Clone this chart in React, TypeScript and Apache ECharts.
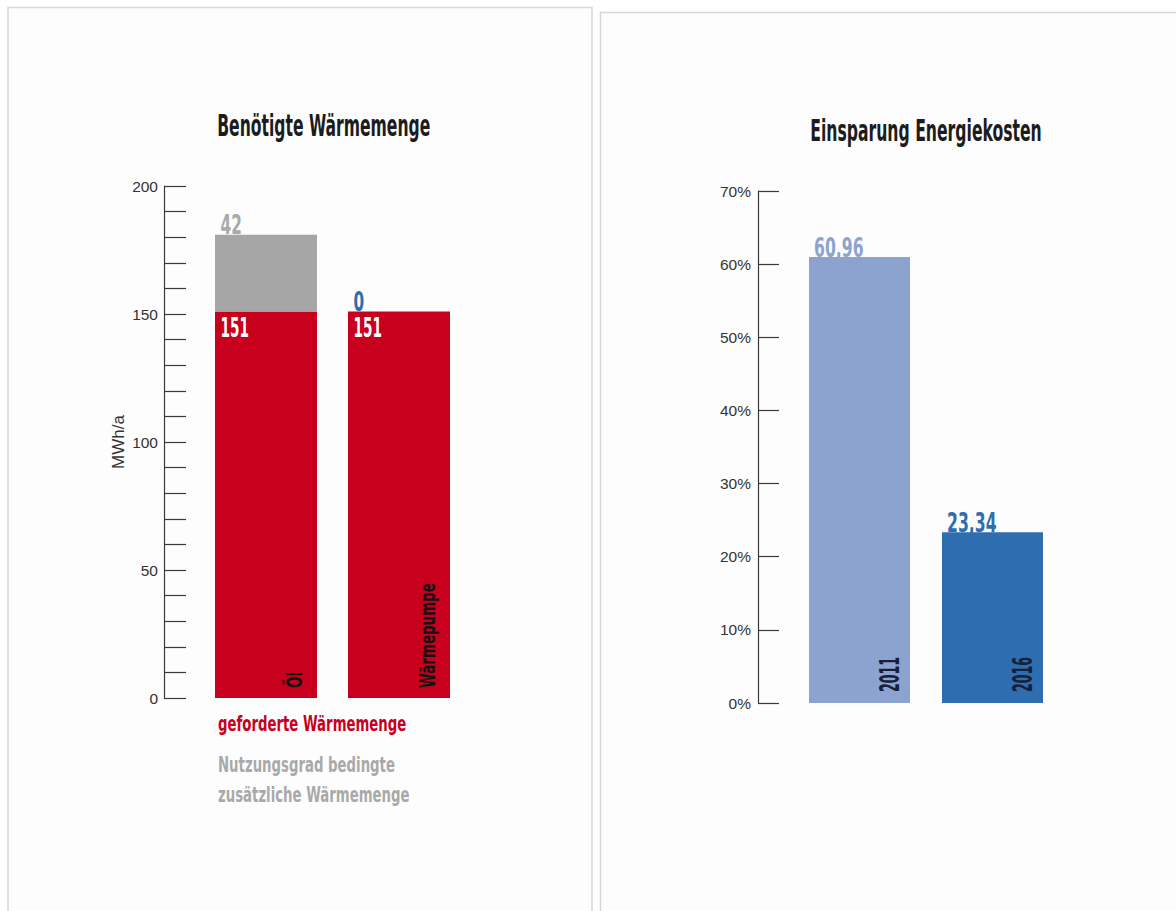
import React, { useEffect, useRef } from 'react';
import * as echarts from 'echarts';

// ---- data ----
const heatCategories = ['Öl', 'Wärmepumpe'];
const requiredHeat = [151, 151];
const extraHeat = [30, 0]; // drawn height of the grey segment
const extraHeatLabels = ['42', '0'];
const heatLegend = ['geforderte Wärmemenge', 'Nutzungsgrad bedingte', 'zusätzliche Wärmemenge'];
const heatTitle = 'Benötigte Wärmemenge';
const heatAxisName = 'MWh/a';

const savingsYears = ['2011', '2016'];
const savingsValues = [60.96, 23.34];
const savingsTitle = 'Einsparung Energiekosten';

// ---- styles ----
const COND = "'DejaVu Sans Condensed', 'DejaVu Sans', sans-serif";
const HEL = "'Liberation Sans', Arial, Helvetica, sans-serif";
const RED = '#c9001d';
const GREY = '#a6a6a6';
const GREY_TEXT = '#a9a9a9';
const BLUE_LIGHT = '#8ca3cf';
const BLUE_DARK = '#2e6db0';
const AXIS = '#3a3a3a';
const BAR_W0 = 102;
const BAR_W1 = 101;

function condText(
  text: string, x: number, y: number, size: number, scaleX: number, fill: string,
  align: string = 'left', rotation: number = 0, weight: string = 'bold',
) {
  return {
    type: 'text', x, y, scaleX, rotation, z: 100, silent: true,
    style: {
      text, fill,
      font: `${weight} ${size}px ${COND}`,
      textAlign: align, align,
      textVerticalAlign: 'middle', verticalAlign: 'middle',
    },
  };
}

export default function App() {
  const ref = useRef<HTMLDivElement>(null);
  useEffect(() => {
    if (!ref.current) return;
    const chart = echarts.init(ref.current, null, { renderer: 'svg' });
    const tickStyle = { color: AXIS, width: 1.2 };
    chart.setOption({
      animation: false,
      textStyle: { fontFamily: HEL },
      grid: [
        { left: 199.5, top: 186, width: 266, height: 512 },
        { left: 793, top: 191, width: 266, height: 512 },
      ],
      xAxis: [
        {
          type: 'category', gridIndex: 0, data: heatCategories,
          axisLine: { show: false }, axisTick: { show: false }, axisLabel: { show: false },
        },
        {
          type: 'category', gridIndex: 1, data: savingsYears,
          axisLine: { show: false }, axisTick: { show: false }, axisLabel: { show: false },
        },
      ],
      yAxis: [
        {
          type: 'value', gridIndex: 0, min: 0, max: 200, interval: 50, offset: 35.5,
          axisLine: { show: true, lineStyle: tickStyle },
          axisTick: { show: true, inside: true, length: 22, lineStyle: tickStyle },
          minorTick: { show: true, splitNumber: 5, length: 22, lineStyle: tickStyle },
          splitLine: { show: false },
          axisLabel: { margin: 6, color: '#333', fontSize: 15.5, fontFamily: HEL },
          name: heatAxisName, nameLocation: 'middle', nameGap: 37,
          nameTextStyle: { fontSize: 17, color: '#333', fontFamily: HEL },
        },
        {
          type: 'value', gridIndex: 1, min: 0, max: 70, interval: 10, offset: 35,
          axisLine: { show: true, lineStyle: tickStyle },
          axisTick: { show: true, inside: true, length: 21, lineStyle: tickStyle },
          splitLine: { show: false },
          axisLabel: { margin: 7, color: '#333', fontSize: 15.5, fontFamily: HEL, formatter: '{value}%' },
        },
      ],
      series: [
        {
          name: heatLegend[0], type: 'bar', xAxisIndex: 0, yAxisIndex: 0, stack: 'heat',
          barWidth: BAR_W0, data: requiredHeat, itemStyle: { color: RED },
        },
        {
          name: heatLegend[1] + ' ' + heatLegend[2], type: 'bar', xAxisIndex: 0, yAxisIndex: 0, stack: 'heat',
          barWidth: BAR_W0, data: extraHeat, itemStyle: { color: GREY },
        },
        {
          name: savingsTitle, type: 'bar', xAxisIndex: 1, yAxisIndex: 1, barWidth: BAR_W1,
          data: savingsValues.map((v, i) => ({
            value: v, itemStyle: { color: i === 0 ? BLUE_LIGHT : BLUE_DARK },
          })),
        },
      ],
    });

    const p0 = (i: number, v: number) =>
      chart.convertToPixel({ xAxisIndex: 0, yAxisIndex: 0 }, [i, v]) as number[];
    const p1 = (i: number, v: number) =>
      chart.convertToPixel({ xAxisIndex: 1, yAxisIndex: 1 }, [i, v]) as number[];

    const texts: any[] = [];
    // titles
    texts.push(condText(heatTitle, 323.7, 126, 30, 0.578, '#1c1c1c', 'center'));
    texts.push(condText(savingsTitle, 926, 131, 30, 0.58, '#1c1c1c', 'center'));
    // legend of left chart
    texts.push(condText(heatLegend[0], 218, 723, 21.4, 0.69, RED));
    texts.push(condText(heatLegend[1], 218, 764.5, 21.4, 0.69, GREY_TEXT));
    texts.push(condText(heatLegend[2], 218, 794.5, 21.4, 0.69, GREY_TEXT));

    heatCategories.forEach((cat, i) => {
      const [cx, yRed] = p0(i, requiredHeat[i]);
      const [, yTop] = p0(i, requiredHeat[i] + extraHeat[i]);
      const [, yBase] = p0(i, 0);
      const left = cx - BAR_W0 / 2;
      const right = cx + BAR_W0 / 2;
      texts.push(condText(String(requiredHeat[i]), left + 5.5, yRed + 16.6, 27, 0.56, '#ffffff'));
      texts.push(condText(extraHeatLabels[i], left + 5.5, yTop - 10, 27, 0.63,
        extraHeat[i] === 0 ? BLUE_DARK : GREY_TEXT));
      texts.push(condText(cat, right - 22, yBase - 10, 21, 0.71, '#141414', 'left', Math.PI / 2));
    });

    savingsYears.forEach((year, i) => {
      const [cx, yTop] = p1(i, savingsValues[i]);
      const [, yBase] = p1(i, 0);
      const left = cx - BAR_W1 / 2;
      const right = cx + BAR_W1 / 2;
      texts.push(condText(savingsValues[i].toFixed(2).replace('.', ','), left + 5, yTop - 10, 27, 0.645,
        i === 0 ? BLUE_LIGHT : BLUE_DARK));
      texts.push(condText(year, right - 20.5, yBase - 11, 27, 0.52, '#16203a', 'left', Math.PI / 2));
    });

    chart.setOption({
      graphic: [
        {
          type: 'rect', z: -100, silent: true,
          shape: { x: 8, y: 7.5, width: 584, height: 930 },
          style: { fill: '#fdfdfd', stroke: '#d8d8d8', lineWidth: 1.5 },
        },
        {
          type: 'rect', z: -100, silent: true,
          shape: { x: 600.5, y: 12.5, width: 620, height: 930 },
          style: { fill: '#fdfdfd', stroke: '#d8d8d8', lineWidth: 1.5 },
        },
        ...texts,
      ],
    });
    return () => chart.dispose();
  }, []);
  return (
    <div
      ref={ref}
      style={{ position: 'absolute', left: 0, top: 0, width: 1176, height: 911, background: '#ffffff' }}
    />
  );
}
